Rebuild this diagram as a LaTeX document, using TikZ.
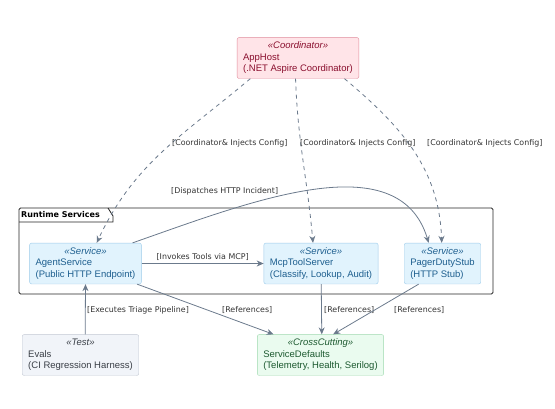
\documentclass[tikz,border=0pt]{standalone}
\usepackage{fontspec}
\setmainfont{Liberation Sans}
\newfontfamily\labelfont{DejaVu Sans}
\usepackage{tikz}
\usetikzlibrary{positioning, calc, arrows.meta}

\definecolor{edgegray}{HTML}{6B7A8C}
\definecolor{labelgray}{HTML}{333333}
\definecolor{hostfill}{HTML}{FFE4E8}
\definecolor{hostdraw}{HTML}{E08A9A}
\definecolor{hosttext}{HTML}{8A0F2E}
\definecolor{svcfill}{HTML}{E1F3FD}
\definecolor{svcdraw}{HTML}{9CCBEA}
\definecolor{svctext}{HTML}{1E5F8F}
\definecolor{testfill}{HTML}{F1F4F9}
\definecolor{testdraw}{HTML}{C2C8D2}
\definecolor{testtext}{HTML}{3A3F47}
\definecolor{ccfill}{HTML}{EAFBEF}
\definecolor{ccdraw}{HTML}{9ED8AE}
\definecolor{cctext}{HTML}{1D5A30}

% stereotype line centred over the left aligned name lines
\newcommand{\stereo}[3]{\begin{tabular}{@{}l@{}}\multicolumn{1}{@{}c@{}}{\itshape «#1»}\\ #2\\ #3\end{tabular}}

\begin{document}
\begin{tikzpicture}[
    x=1pt, y=-1pt,
    >={Stealth[length=7pt, width=6pt]},
    every edge/.style={draw, edgegray, thick},
    cmpt/.style={draw, rounded corners=2pt, inner xsep=6pt, inner ysep=3.5pt, font=\fontsize{9.5}{11.3}\selectfont},
    host/.style={cmpt, fill=hostfill, draw=hostdraw, text=hosttext},
    svc/.style={cmpt, fill=svcfill, draw=svcdraw, text=svctext},
    test/.style={cmpt, fill=testfill, draw=testdraw, text=testtext},
    cross/.style={cmpt, fill=ccfill, draw=ccdraw, text=cctext},
    coord/.style={dashed, dash pattern=on 4pt off 4pt},
    label/.style={align=left, font=\labelfont\fontsize{7.9}{9}\selectfont, text=labelgray, inner sep=1pt}]

    \useasboundingbox (0,0) rectangle (555,408);

    %%% Runtime Services frame
    \draw[rounded corners=1.5pt, thick, black!85] (19,208) rectangle (493,294);
    \draw[thick, black!85] (19,222) -- (113,222) -- (113,216) -- (108,208);
    \node[anchor=west, font=\labelfont\fontsize{8}{10}\selectfont\bfseries, inner sep=0pt] (frametitle) at (21,215) {Runtime Services};

    %%% Components
    \node[host] (apphost) at (298,58) {\stereo{Coordinator}{AppHost}{(.NET Aspire Coordinator)}};
    \node[svc] (agent) at (85.5,263.5) {\stereo{Service}{AgentService}{(Public HTTP Endpoint)}};
    \node[svc] (mcp) at (321,263.5) {\stereo{Service}{McpToolServer}{(Classify, Lookup, Audit)}};
    \node[svc] (pager) at (442.5,263.5) {\stereo{Service}{PagerDutyStub}{(HTTP Stub)}};
    \node[test] (evals) at (80.5,355) {\stereo{Test}{Evals}{(CI Regression Harness)}};
    \node[cross] (defaults) at (320.5,355) {\stereo{CrossCutting}{ServiceDefaults}{(Telemetry, Health, Serilog)}};

    %%% Coordinator edges
    \path ($(apphost.south west)!0.11!(apphost.south east)$) edge [->, coord, out=-140, in=65] ($(agent.north west)!0.6!(agent.north east)$);
    \path ($(apphost.south west)!0.48!(apphost.south east)$) edge [->, coord, out=-88, in=95] ($(mcp.north west)!0.43!(mcp.north east)$);
    \path ($(apphost.south west)!0.88!(apphost.south east)$) edge [->, coord, out=-40, in=92] ($(pager.north west)!0.49!(pager.north east)$);
    \node[label, anchor=west] (lblcoorda) at (171,143) {[Coordinator\& Injects Config]};
    \node[label, anchor=west] (lblcoordb) at (299,143) {[Coordinator\& Injects Config]};
    \node[label, anchor=west] (lblcoordc) at (426,143) {[Coordinator\& Injects Config]};

    %%% Relations between services
    \draw[->, edgegray, thick] ($(agent.north west)!0.92!(agent.north east)$) .. controls +(117,-41) and +(-30,-100) .. ($(pager.north west)!0.32!(pager.north east)$);
    \node[label, anchor=west] (lbldispatch) at (170,191) {[Dispatches HTTP Incident]};

    \path (agent) edge [->] node[label, above=2pt] {[Invokes Tools via MCP]} (mcp);

    \path ($(evals.north west)!0.54!(evals.north east)$) edge [->] ($(agent.south west)!0.5!(agent.south east)$);
    \node[label, anchor=west] (lblexec) at (86,310) {[Executes Triage Pipeline]};

    \path ($(agent.south west)!0.96!(agent.south east)$) edge [->] ($(defaults.north west)!0.13!(defaults.north east)$);
    \node[label, anchor=west] (lblrefa) at (221,310) {[References]};
    \path (mcp) edge [->] ($(defaults.north west)!0.51!(defaults.north east)$);
    \node[label, anchor=west] (lblrefb) at (323,310) {[References]};
    \path ($(pager.south west)!0.19!(pager.south east)$) edge [->] ($(defaults.north west)!0.6!(defaults.north east)$);
    \node[label, anchor=west] (lblrefc) at (393,310) {[References]};

\end{tikzpicture}
\end{document}
